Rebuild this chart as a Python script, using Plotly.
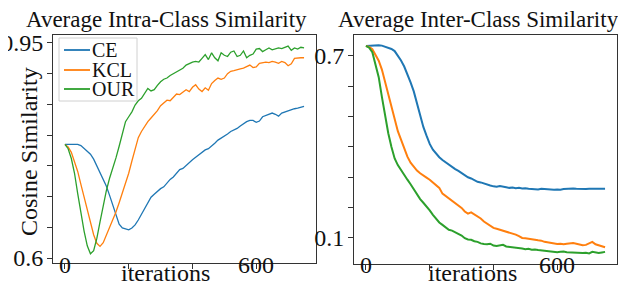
import plotly.graph_objects as go

iterations = list(range(0, 760, 10))

intra_ce = [0.785, 0.785, 0.785, 0.785, 0.785, 0.783, 0.778, 0.774, 0.769, 0.761,
            0.750, 0.740, 0.729, 0.717, 0.702, 0.686, 0.668, 0.655, 0.649, 0.647,
            0.646, 0.649, 0.654, 0.662, 0.671, 0.679, 0.690, 0.699, 0.704, 0.709,
            0.713, 0.716, 0.722, 0.728, 0.732, 0.739, 0.744, 0.746, 0.751, 0.755,
            0.760, 0.764, 0.768, 0.772, 0.776, 0.778, 0.782, 0.787, 0.792, 0.795,
            0.798, 0.802, 0.806, 0.808, 0.811, 0.815, 0.819, 0.822, 0.824, 0.824,
            0.821, 0.823, 0.830, 0.832, 0.834, 0.836, 0.834, 0.831, 0.836, 0.838,
            0.839, 0.841, 0.843, 0.844, 0.846, 0.847]

intra_kcl = [0.785, 0.781, 0.772, 0.758, 0.741, 0.720, 0.699, 0.678, 0.657, 0.638,
             0.624, 0.619, 0.625, 0.637, 0.648, 0.661, 0.675, 0.690, 0.706, 0.722,
             0.738, 0.758, 0.779, 0.796, 0.806, 0.815, 0.822, 0.828, 0.834, 0.840,
             0.848, 0.853, 0.857, 0.856, 0.862, 0.867, 0.866, 0.870, 0.874, 0.871,
             0.878, 0.882, 0.875, 0.871, 0.877, 0.873, 0.884, 0.889, 0.893, 0.891,
             0.893, 0.900, 0.904, 0.905, 0.907, 0.908, 0.909, 0.912, 0.914, 0.910,
             0.911, 0.917, 0.918, 0.919, 0.918, 0.920, 0.919, 0.917, 0.920, 0.918,
             0.913, 0.916, 0.925, 0.926, 0.926, 0.926]

intra_our = [0.785, 0.778, 0.762, 0.738, 0.705, 0.672, 0.644, 0.620, 0.607, 0.612,
             0.632, 0.659, 0.686, 0.710, 0.730, 0.745, 0.763, 0.782, 0.804, 0.822,
             0.830, 0.838, 0.849, 0.856, 0.860, 0.869, 0.876, 0.872, 0.874, 0.881,
             0.887, 0.891, 0.893, 0.897, 0.900, 0.904, 0.906, 0.909, 0.914, 0.917,
             0.919, 0.920, 0.919, 0.925, 0.931, 0.923, 0.934, 0.926, 0.921, 0.934,
             0.930, 0.928, 0.935, 0.937, 0.928, 0.930, 0.937, 0.926, 0.930, 0.932,
             0.940, 0.941, 0.936, 0.939, 0.942, 0.939, 0.941, 0.942, 0.941, 0.943,
             0.945, 0.938, 0.942, 0.940, 0.943, 0.942]

inter_ce = [0.733, 0.734, 0.735, 0.735, 0.735, 0.734, 0.731, 0.727, 0.723, 0.716,
            0.702, 0.685, 0.665, 0.641, 0.613, 0.583, 0.543, 0.503, 0.466, 0.437,
            0.410, 0.391, 0.377, 0.366, 0.357, 0.349, 0.341, 0.335, 0.327, 0.321,
            0.314, 0.307, 0.300, 0.296, 0.290, 0.285, 0.283, 0.279, 0.276, 0.273,
            0.270, 0.269, 0.271, 0.268, 0.267, 0.265, 0.266, 0.264, 0.265, 0.263,
            0.264, 0.262, 0.261, 0.262, 0.260, 0.262, 0.261, 0.262, 0.261, 0.259,
            0.260, 0.259, 0.261, 0.262, 0.261, 0.263, 0.262, 0.261, 0.262, 0.261,
            0.262, 0.262, 0.261, 0.262, 0.263, 0.262]

inter_kcl = [0.733, 0.730, 0.722, 0.705, 0.684, 0.655, 0.615, 0.573, 0.534, 0.490,
             0.452, 0.424, 0.395, 0.368, 0.348, 0.333, 0.322, 0.313, 0.307, 0.299,
             0.292, 0.283, 0.275, 0.265, 0.246, 0.238, 0.228, 0.220, 0.214, 0.207,
             0.199, 0.187, 0.180, 0.184, 0.177, 0.170, 0.164, 0.154, 0.146, 0.140,
             0.133, 0.130, 0.127, 0.124, 0.121, 0.118, 0.116, 0.111, 0.106, 0.100,
             0.099, 0.098, 0.097, 0.094, 0.092, 0.091, 0.087, 0.085, 0.083, 0.081,
             0.080, 0.081, 0.079, 0.081, 0.082, 0.083, 0.081, 0.079, 0.076, 0.077,
             0.083, 0.087, 0.079, 0.075, 0.071, 0.069]

inter_our = [0.733, 0.727, 0.712, 0.675, 0.630, 0.565, 0.505, 0.445, 0.400, 0.362,
             0.340, 0.323, 0.306, 0.292, 0.277, 0.260, 0.242, 0.228, 0.216, 0.204,
             0.191, 0.176, 0.163, 0.151, 0.143, 0.136, 0.127, 0.124, 0.118, 0.113,
             0.108, 0.099, 0.095, 0.094, 0.089, 0.087, 0.082, 0.080, 0.079, 0.081,
             0.075, 0.073, 0.076, 0.077, 0.072, 0.071, 0.068, 0.068, 0.066, 0.065,
             0.063, 0.064, 0.061, 0.062, 0.060, 0.059, 0.056, 0.056, 0.055, 0.054,
             0.053, 0.054, 0.055, 0.053, 0.052, 0.051, 0.052, 0.050, 0.050, 0.051,
             0.049, 0.054, 0.052, 0.050, 0.052, 0.054]

series_names = ["CE", "KCL", "OUR"]
colors = ["#1f77b4", "#ff7f0e", "#2ca02c"]

x_tickvals = [0, 200, 400, 600]
x_ticktext = ["0", "", "", "600"]
left_tickvals = [0.6, 0.65, 0.7, 0.75, 0.8, 0.85, 0.9, 0.95]
left_ticktext = ["0.6", "", "", "", "", "", "", "0.95"]
right_tickvals = [0.1, 0.2, 0.3, 0.4, 0.5, 0.6, 0.7]
right_ticktext = ["0.1", "", "", "", "", "", "0.7"]

W, H = 626, 284
FONT = "Liberation Serif"
FS = 24
TFS = 23

fig = go.Figure()
for name, ys, c in zip(series_names, [intra_ce, intra_kcl, intra_our], colors):
    fig.add_trace(go.Scatter(x=iterations, y=ys, mode="lines", name=name,
                             line=dict(color=c, width=1.3), xaxis="x", yaxis="y",
                             showlegend=False))
for name, ys, c in zip(series_names, [inter_ce, inter_kcl, inter_our], colors):
    fig.add_trace(go.Scatter(x=iterations, y=ys, mode="lines", name=name,
                             line=dict(color=c, width=2), xaxis="x2", yaxis="y2",
                             showlegend=False))

def px_x(p):
    return p / W

def px_y(p):
    return 1 - p / H

axis_common = dict(showline=True, mirror=True, linecolor="#333", linewidth=1,
                   ticks="outside", ticklen=5, tickwidth=1, tickcolor="#333",
                   showgrid=False, zeroline=False, automargin=False,
                   tickfont=dict(family=FONT, size=FS, color="#111"))

fig.update_layout(
    width=W, height=H,
    margin=dict(l=0, r=0, t=0, b=0, autoexpand=False),
    paper_bgcolor="white", plot_bgcolor="white",
    font=dict(family=FONT, size=FS, color="#111"),
    xaxis=dict(domain=[px_x(45), px_x(308)], range=[-37.5, 787.5],
               tickvals=x_tickvals, showticklabels=False, anchor="y", **axis_common),
    yaxis=dict(domain=[px_y(255), px_y(27)], range=[0.592, 0.963],
               tickvals=left_tickvals, ticktext=left_ticktext, anchor="x",
               ticklabelstandoff=-1, **axis_common),
    xaxis2=dict(domain=[px_x(346), px_x(609)], range=[-37.5, 787.5],
                tickvals=x_tickvals, showticklabels=False, anchor="y2", **axis_common),
    yaxis2=dict(domain=[px_y(256), px_y(27)], range=[0.014, 0.769],
                tickvals=right_tickvals, ticktext=right_ticktext, anchor="x2",
                ticklabelstandoff=-1, **axis_common),
    showlegend=False,
)

ann = []
# x tick labels placed at the axis tick values
for xr in ["x", "x2"]:
    for tv, tt in zip(x_tickvals, x_ticktext):
        if tt:
            ann.append(dict(text=tt, x=tv, y=px_y(257), xref=xr, yref="paper",
                            showarrow=False, font=dict(family=FONT, size=FS, color="#111"),
                            xanchor="center", yanchor="middle", borderpad=0))
ann.append(dict(text="Average Intra-Class Similarity", x=px_x(158), y=px_y(12),
                xref="paper", yref="paper", showarrow=False,
                font=dict(family=FONT, size=TFS, color="#111"),
                xanchor="center", yanchor="middle", borderpad=0))
ann.append(dict(text="Average Inter-Class Similarity", x=px_x(470), y=px_y(12),
                xref="paper", yref="paper", showarrow=False,
                font=dict(family=FONT, size=TFS, color="#111"),
                xanchor="center", yanchor="middle", borderpad=0))
ann.append(dict(text="Cosine Similarity", x=px_x(21), y=px_y(144),
                xref="paper", yref="paper", showarrow=False, textangle=-90,
                font=dict(family=FONT, size=FS, color="#111"),
                xanchor="center", yanchor="middle", borderpad=0))
ann.append(dict(text="iterations", x=px_x(157), y=px_y(265),
                xref="paper", yref="paper", showarrow=False,
                font=dict(family=FONT, size=FS, color="#111"),
                xanchor="center", yanchor="middle", borderpad=0))
ann.append(dict(text="iterations", x=px_x(464), y=px_y(265),
                xref="paper", yref="paper", showarrow=False,
                font=dict(family=FONT, size=FS, color="#111"),
                xanchor="center", yanchor="middle", borderpad=0))

shapes = []
# legend box
shapes.append(dict(type="rect", xref="paper", yref="paper",
                   x0=px_x(51), x1=px_x(129), y0=px_y(93), y1=px_y(30),
                   line=dict(color="#d0d0d0", width=1), fillcolor="rgba(255,255,255,0.8)"))
legend_y = [42, 62, 81]
for name, c, ly in zip(series_names, colors, legend_y):
    shapes.append(dict(type="line", xref="paper", yref="paper",
                       x0=px_x(56), x1=px_x(82), y0=px_y(ly), y1=px_y(ly),
                       line=dict(color=c, width=1.8)))
    ann.append(dict(text=name, x=px_x(83), y=px_y(ly), xref="paper", yref="paper",
                    showarrow=False, font=dict(family=FONT, size=20, color="#111"),
                    xanchor="left", yanchor="middle", borderpad=0))

fig.update_layout(annotations=ann, shapes=shapes)
fig.write_html("out.html")
